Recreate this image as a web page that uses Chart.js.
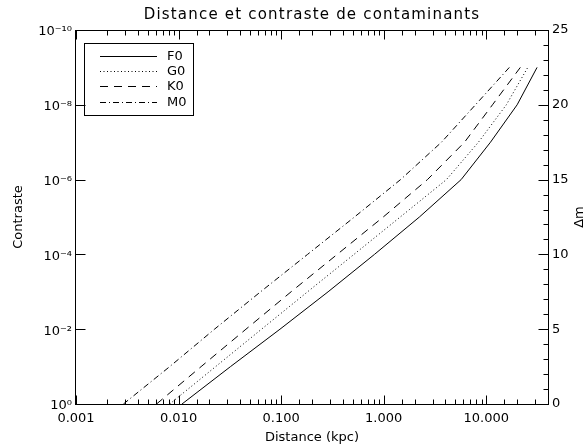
<!DOCTYPE html>
<html>
<head>
<meta charset="utf-8">
<script src="https://cdn.jsdelivr.net/npm/chart.js@4.4.0/dist/chart.umd.min.js"></script>
<style>
html, body { margin: 0; padding: 0; background: #fff; }
</style>
</head>
<body>
<canvas id="contrast" width="586" height="447"></canvas>
<script>
// contrast levels (one point per decade) and distance (kpc) for each spectral type
var contrastLevels = [1, 1e-1, 1e-2, 1e-3, 1e-4, 1e-5, 1e-6, 1e-7, 1e-8, 1e-9];
var distF0 = [0.0108, 0.0321, 0.0975, 0.287, 0.813, 2.23, 5.69, 11.0, 20.0, 31.3];
var distG0 = [0.0082, 0.0230, 0.0644, 0.181, 0.513, 1.45, 4.09, 8.39, 15.7, 25.4];
var distK0 = [0.0061, 0.0166, 0.0454, 0.125, 0.352, 0.99, 2.67, 6.14, 11.5, 21.5];
var distM0 = [0.0029, 0.0082, 0.0224, 0.0630, 0.181, 0.519, 1.46, 3.66, 7.85, 16.8];
var seriesNames = ["F0", "G0", "K0", "M0"];
var contrastTicks = [1e-10, 1e-8, 1e-6, 1e-4, 1e-2, 1];
var distanceRange = [0.001, 40];
var deltaMagRange = [0, 25];

var dashes = [[], [1, 2.5], [8, 6], [6, 3, 1, 3]];
var supChars = {"-": "\u207B", "0": "\u2070", "1": "\u00B9", "2": "\u00B2", "3": "\u00B3",
  "4": "\u2074", "5": "\u2075", "6": "\u2076", "7": "\u2077", "8": "\u2078", "9": "\u2079"};

function isDecade(v) {
  var l = Math.log10(v);
  return Math.abs(l - Math.round(l)) < 1e-6;
}
function powerLabel(v) {
  var e = String(Math.round(Math.log10(v)));
  return "10" + e.split("").map(function (c) { return supChars[c]; }).join("");
}
function points(d) {
  return d.map(function (x, i) { return {x: x, y: contrastLevels[i]}; });
}

Chart.defaults.font.family = "'DejaVu Sans', sans-serif";
Chart.defaults.color = "#000";

var framePlugin = {
  id: "frame",
  afterDraw: function (chart) {
    var c = chart.ctx, a = chart.chartArea;
    var xs = chart.scales.x, ys = chart.scales.y, rs = chart.scales.y2;
    var L = Math.round(a.left) - 0.5, R = Math.round(a.right) + 0.5;
    var T = Math.round(a.top) + 0.5, B = Math.round(a.bottom) + 0.5;
    c.save();
    c.strokeStyle = "#000";
    c.lineWidth = 1;
    c.setLineDash([]);
    c.strokeRect(L, T, R - L, B - T);

    // tick marks pointing inward
    xs.ticks.forEach(function (t) {
      var px = Math.round(xs.getPixelForValue(t.value)) + 0.5;
      var len = isDecade(t.value) ? 9 : 5;
      c.beginPath();
      c.moveTo(px, B); c.lineTo(px, B - len);
      c.moveTo(px, T); c.lineTo(px, T + len);
      c.stroke();
    });
    ys.ticks.forEach(function (t) {
      var py = Math.round(ys.getPixelForValue(t.value)) + 0.5;
      c.beginPath();
      c.moveTo(L, py); c.lineTo(L + 10, py);
      c.stroke();
    });
    rs.ticks.forEach(function (t) {
      var py = Math.round(rs.getPixelForValue(t.value)) + 0.5;
      var len = t.value % 5 === 0 ? 10 : 5;
      c.beginPath();
      c.moveTo(R, py); c.lineTo(R - len, py);
      c.stroke();
    });

    // title, spaced like the original vector font
    c.fillStyle = "#000";
    c.font = "15px 'DejaVu Sans'";
    c.textAlign = "center";
    c.textBaseline = "middle";
    c.letterSpacing = "1.2px";
    c.fillText("Distance et contraste de contaminants", (a.left + a.right) / 2, 15);
    c.letterSpacing = "0px";

    // legend box
    var lx = Math.round(a.left) + 8, ly = Math.round(a.top) + 13;
    c.strokeRect(lx + 0.5, ly + 0.5, 109, 72);
    c.font = "13px 'DejaVu Sans'";
    c.textAlign = "left";
    chart.data.datasets.forEach(function (ds, i) {
      var yy = Math.round(ly + 13 + i * 15.2) + 0.5;
      c.setLineDash(ds.borderDash || []);
      c.beginPath();
      c.moveTo(lx + 16, yy); c.lineTo(lx + 73, yy);
      c.stroke();
      c.fillText(ds.label, lx + 83, yy);
    });
    c.setLineDash([]);

    // right axis title, reading bottom to top
    c.translate(580, (a.top + a.bottom) / 2);
    c.rotate(-Math.PI / 2);
    c.textAlign = "center";
    c.fillText("\u0394m", 0, 0);
    c.restore();
  }
};

var ctx = document.getElementById("contrast").getContext("2d");
var allDist = [distF0, distG0, distK0, distM0];
var myChart = new Chart(ctx, {
  type: "line",
  data: {
    datasets: seriesNames.map(function (name, i) {
      return {
        label: name,
        data: points(allDist[i]),
        borderColor: "#000",
        borderWidth: 1,
        borderDash: dashes[i],
        pointRadius: 0,
        tension: 0,
        fill: false
      };
    })
  },
  options: {
    responsive: false,
    animation: false,
    layout: { padding: { top: 30 } },
    plugins: {
      legend: { display: false },
      tooltip: { enabled: false },
      title: { display: false }
    },
    scales: {
      x: {
        type: "logarithmic",
        position: "bottom",
        min: distanceRange[0],
        max: distanceRange[1],
        grid: { display: false, drawTicks: false },
        border: { display: false },
        ticks: {
          autoSkip: false,
          maxRotation: 0,
          padding: 7,
          font: { size: 13 },
          callback: function (v) { return isDecade(v) ? Number(v).toFixed(3) : ""; }
        },
        title: { display: true, text: "Distance (kpc)", font: { size: 13 }, padding: { top: 2, bottom: 2 } },
        afterFit: function (s) { s.height = 43; }
      },
      y: {
        type: "logarithmic",
        position: "left",
        reverse: true,
        min: contrastTicks[0],
        max: contrastTicks[contrastTicks.length - 1],
        grid: { display: false, drawTicks: false },
        border: { display: false },
        afterBuildTicks: function (s) {
          s.ticks = contrastTicks.map(function (v) { return {value: v}; });
        },
        ticks: {
          autoSkip: false,
          padding: 4,
          labelOffset: 2,
          font: { size: 13 },
          callback: function (v) { return powerLabel(v); }
        },
        title: { display: true, text: "Contraste", font: { size: 13 }, padding: { top: 11, bottom: 0 } },
        afterFit: function (s) { s.width = 76; }
      },
      y2: {
        type: "linear",
        position: "right",
        display: true,
        min: deltaMagRange[0],
        max: deltaMagRange[1],
        grid: { display: false, drawTicks: false },
        border: { display: false },
        ticks: {
          stepSize: 1,
          autoSkip: false,
          padding: 4,
          font: { size: 13 },
          callback: function (v) { return v % 5 === 0 ? String(v) : ""; }
        },
        afterFit: function (s) { s.width = 38; }
      }
    }
  },
  plugins: [framePlugin]
});
</script>
</body>
</html>
